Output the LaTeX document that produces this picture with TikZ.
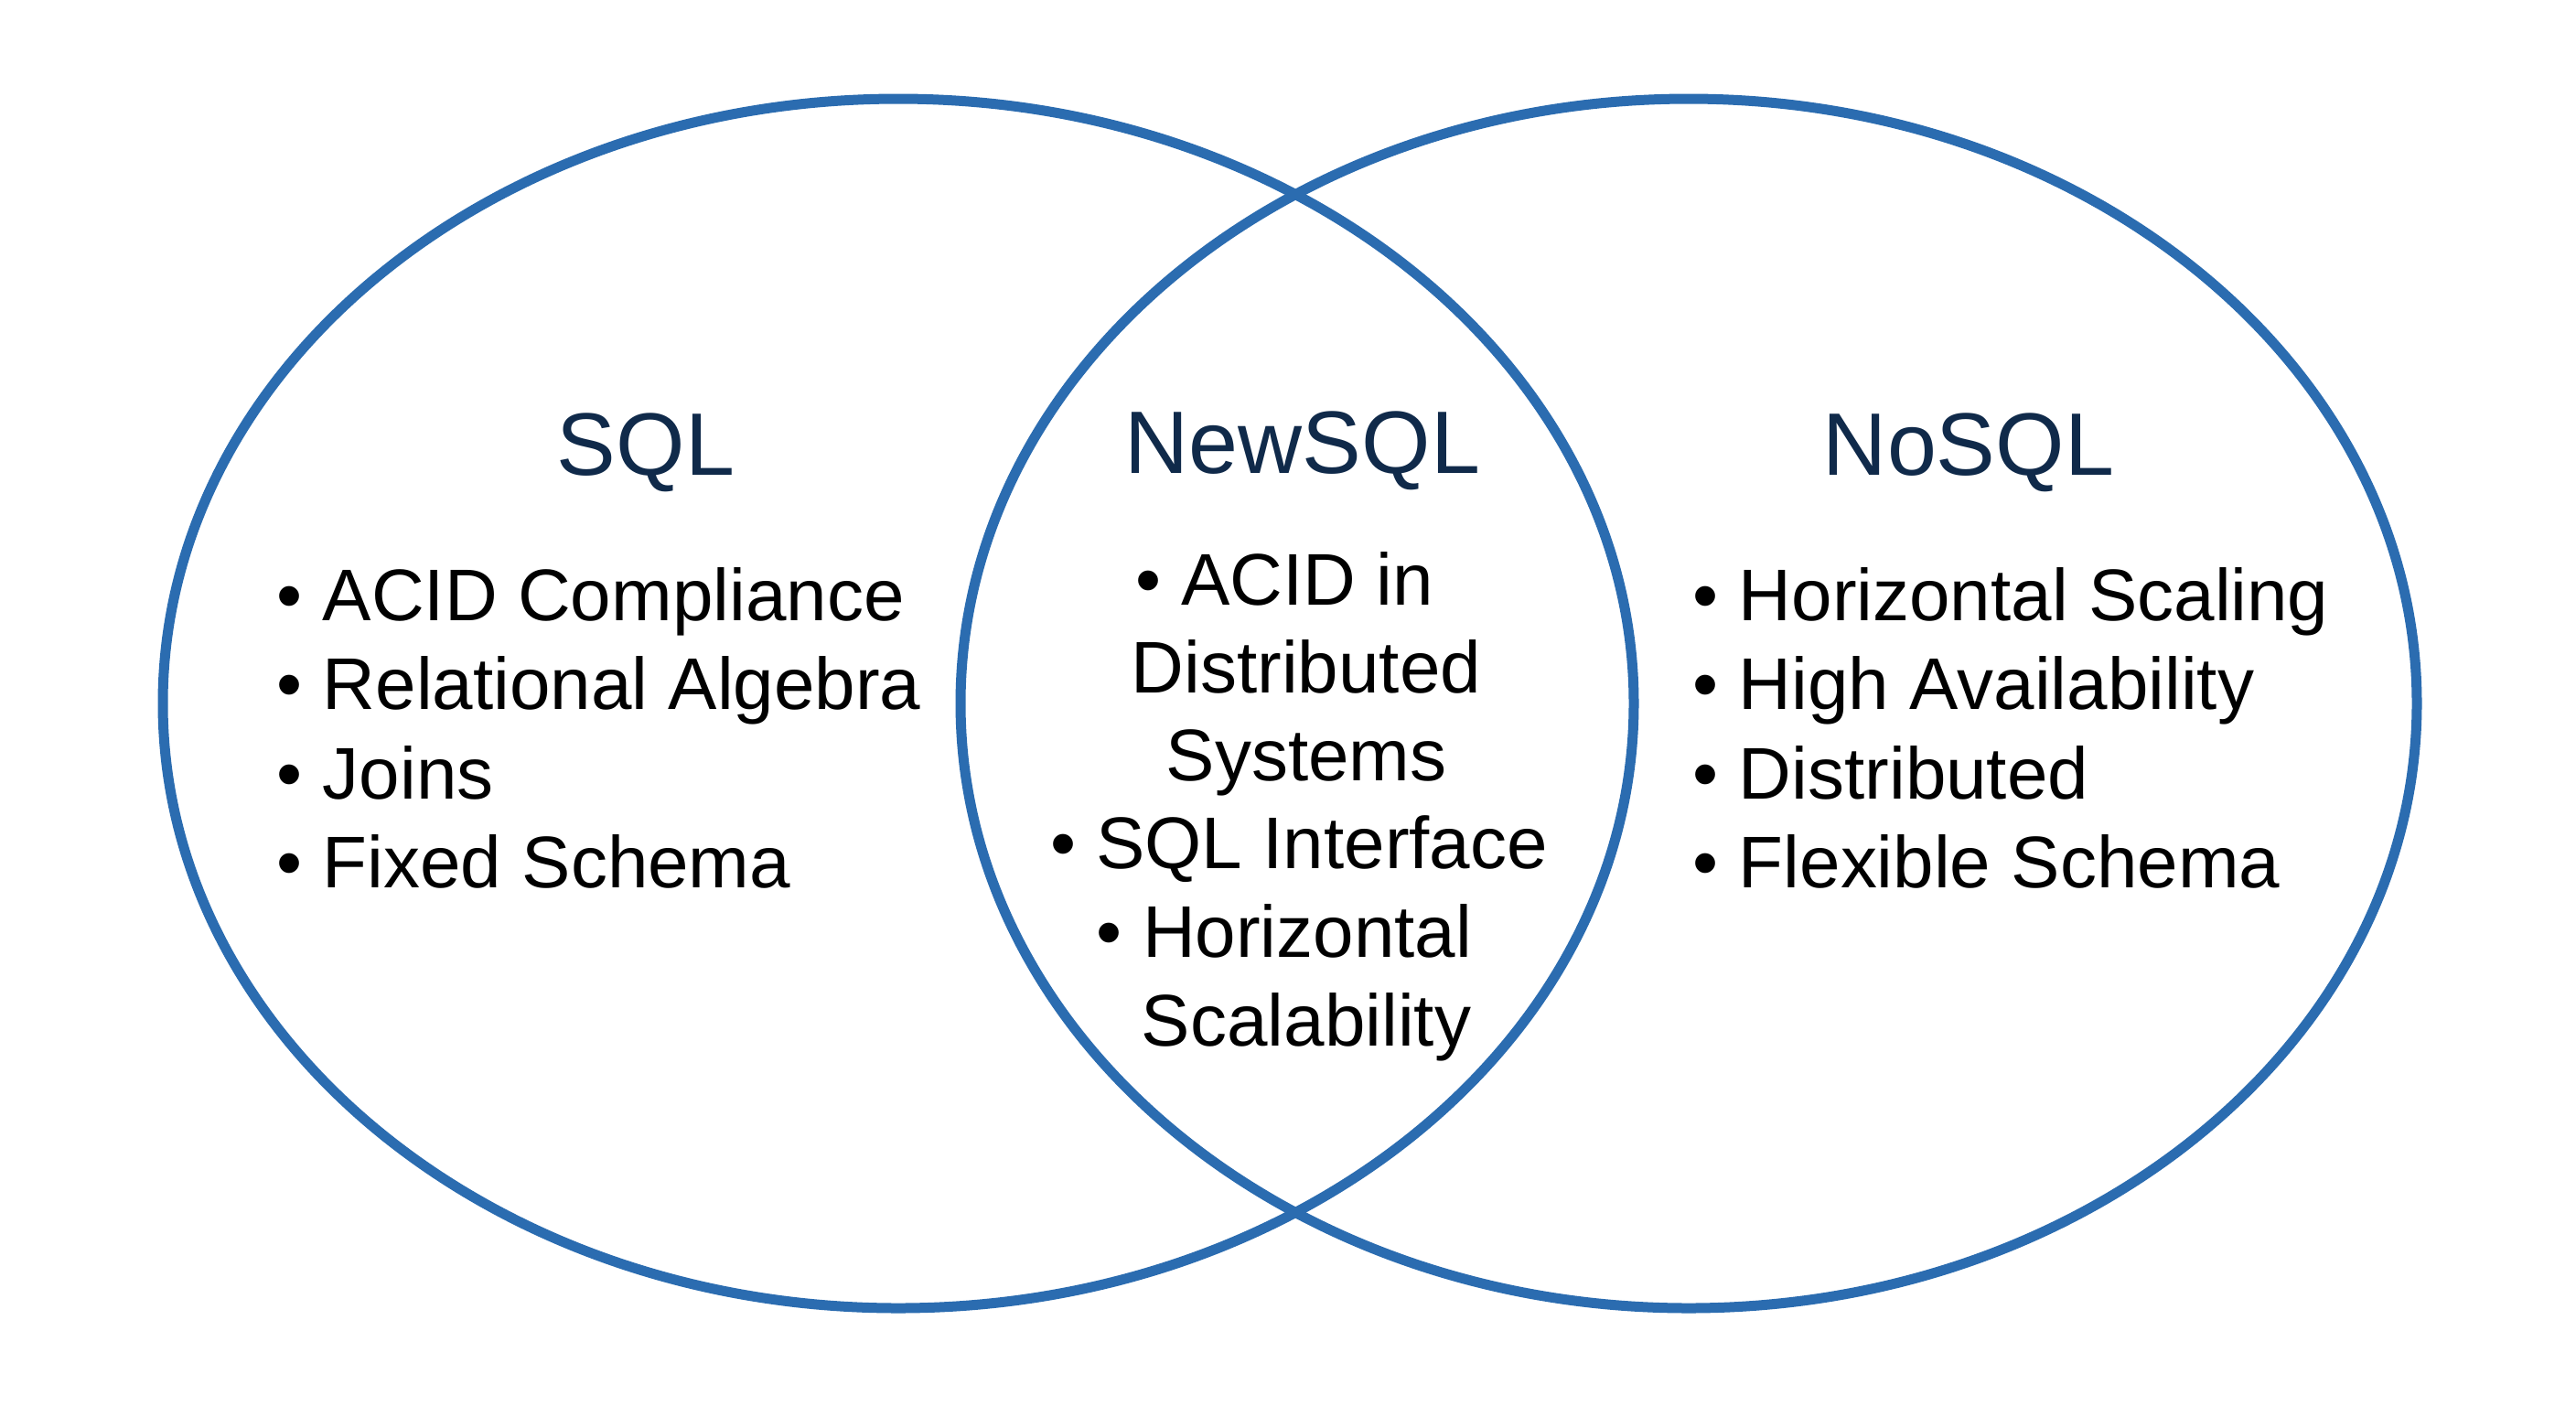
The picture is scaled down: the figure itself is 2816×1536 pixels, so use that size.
\documentclass[tikz,border=0pt]{standalone}
\usepackage{fontspec}
\setmainfont{Liberation Sans}
\usetikzlibrary{shapes.geometric}
\definecolor{ringblue}{RGB}{43,108,176}
\definecolor{titlenavy}{RGB}{16,42,74}
\tikzset{
  ring/.style={draw=ringblue, line width=1.1mm, ellipse, inner sep=0pt, minimum width=160.8mm, minimum height=132.2mm},
  titletext/.style={text=titlenavy, font=\fontsize{27.6pt}{33pt}\selectfont, inner sep=0pt, anchor=base},
  itemtext/.style={text=black, font=\fontsize{22.76pt}{27.7pt}\selectfont, inner sep=0pt, anchor=base west},
  midtext/.style={text=black, font=\fontsize{22.76pt}{27.7pt}\selectfont, inner sep=0pt, anchor=base}
}
\begin{document}
\begin{tikzpicture}[x=0.1mm,y=-0.1mm]
\useasboundingbox[fill=white] (0,0) rectangle (2816,1536);
\node[ring] (sqlring) at (982,769) {};
\node[ring, minimum width=159.2mm] (nosqlring) at (1846,769) {};
% titles
\node[titletext] (sqlt) at (706,519) {SQL};
\node[titletext] (newt) at (1424,517) {NewSQL};
\node[titletext] (nosqlt) at (2152,519) {NoSQL};
% SQL list
\node[itemtext] (s1) at (302,678) {• ACID Compliance};
\node[itemtext] (s2) at (302,775.5) {• Relational Algebra};
\node[itemtext] (s3) at (302,873) {• Joins};
\node[itemtext] (s4) at (302,970.5) {• Fixed Schema};
% NewSQL list
\node[midtext] (n1) at (1404,661) {• ACID in};
\node[midtext] (n2) at (1428,757) {Distributed};
\node[midtext] (n3) at (1428,853) {Systems};
\node[midtext] (n4) at (1420,949) {• SQL Interface};
\node[midtext] (n5) at (1404,1046) {• Horizontal};
\node[midtext] (n6) at (1428,1143) {Scalability};
% NoSQL list
\node[itemtext] (r1) at (1850,678) {• Horizontal Scaling};
\node[itemtext] (r2) at (1850,775.5) {• High Availability};
\node[itemtext] (r3) at (1850,873) {• Distributed};
\node[itemtext] (r4) at (1850,970.5) {• Flexible Schema};
\end{tikzpicture}
\end{document}
